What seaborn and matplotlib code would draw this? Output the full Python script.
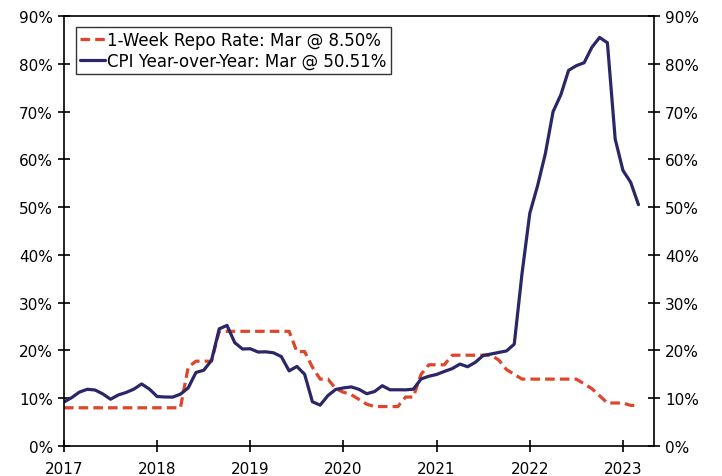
import matplotlib

matplotlib.use("Agg")
import matplotlib.pyplot as plt
import pandas as pd
import seaborn as sns

# Monthly data, Jan 2017 - Mar 2023
cpi_yoy = [
    9.22, 10.13, 11.29, 11.87, 11.72, 10.90, 9.79, 10.68, 11.20, 11.90, 12.98, 11.92,
    10.35, 10.26, 10.23, 10.85, 12.15, 15.39, 15.85, 17.90, 24.52, 25.24, 21.62, 20.30,
    20.35, 19.67, 19.71, 19.50, 18.71, 15.72, 16.65, 15.01, 9.26, 8.55, 10.56, 11.84,
    12.15, 12.37, 11.86, 10.94, 11.39, 12.62, 11.76, 11.77, 11.75, 11.89, 14.03, 14.60,
    14.97, 15.61, 16.19, 17.14, 16.59, 17.53, 18.95, 19.25, 19.58, 19.89, 21.31, 36.08,
    48.69, 54.44, 61.14, 69.97, 73.50, 78.62, 79.60, 80.21, 83.45, 85.51, 84.39, 64.27,
    57.68, 55.18, 50.51,
]
repo_rate = [
    8.00, 8.00, 8.00, 8.00, 8.00, 8.00, 8.00, 8.00, 8.00, 8.00, 8.00, 8.00,
    8.00, 8.00, 8.00, 8.00, 16.50, 17.75, 17.75, 17.75, 24.00, 24.00, 24.00, 24.00,
    24.00, 24.00, 24.00, 24.00, 24.00, 24.00, 19.75, 19.75, 16.50, 14.00, 14.00, 12.00,
    11.25, 10.75, 9.75, 8.75, 8.25, 8.25, 8.25, 8.25, 10.25, 10.25, 15.00, 17.00,
    17.00, 17.00, 19.00, 19.00, 19.00, 19.00, 19.00, 19.00, 18.00, 16.00, 15.00, 14.00,
    14.00, 14.00, 14.00, 14.00, 14.00, 14.00, 14.00, 13.00, 12.00, 10.50, 9.00, 9.00,
    9.00, 8.50, 8.50,
]
year_ticks = [2017, 2018, 2019, 2020, 2021, 2022, 2023]
pct_ticks = [0, 10, 20, 30, 40, 50, 60, 70, 80, 90]

repo_label = "1-Week Repo Rate: Mar @ 8.50%"
cpi_label = "CPI Year-over-Year: Mar @ 50.51%"

t = [2017 + i / 12 for i in range(len(cpi_yoy))]
df = pd.DataFrame({"t": t, "repo": repo_rate, "cpi": cpi_yoy})

sns.set_style("ticks")
plt.rcParams["font.family"] = ["DejaVu Sans"]

fig = plt.figure(figsize=(7.22, 4.77), dpi=100)
ax = fig.add_axes([0.0886, 0.0629, 0.8172, 0.9015])

sns.lineplot(data=df, x="t", y="repo", ax=ax, color="#E0452B", lw=2.3,
             linestyle=(0, (3, 1.6)), label=repo_label)
sns.lineplot(data=df, x="t", y="cpi", ax=ax, color="#2B2668", lw=2.3,
             label=cpi_label)

ax.set_xlim(2017, 2017 + 76 / 12)
ax.set_ylim(0, 90)
ax.set_xticks(year_ticks)
ax.set_xticklabels([str(y) for y in year_ticks])
ax.set_yticks(pct_ticks)
ax.set_yticklabels([f"{p}%" for p in pct_ticks])
ax.set_xlabel("")
ax.set_ylabel("")

for s in ax.spines.values():
    s.set_visible(True)
    s.set_color("black")
    s.set_linewidth(1.2)

ax.tick_params(axis="both", direction="inout", length=8, width=1.2,
               labelsize=11, colors="black")
ax.tick_params(axis="y", right=True, labelright=True, left=True, labelleft=True, pad=4)
ax.tick_params(axis="x", top=False, pad=7)

leg = ax.legend(loc="upper left", bbox_to_anchor=(0.02, 0.975), fontsize=12,
                frameon=True, fancybox=False, handlelength=1.5,
                handletextpad=0.15, borderpad=0.25, labelspacing=0.2,
                borderaxespad=0, labelcolor="black")
leg.get_frame().set_edgecolor("black")
leg.get_frame().set_linewidth(1.0)

fig.savefig("out.png", dpi=100)
